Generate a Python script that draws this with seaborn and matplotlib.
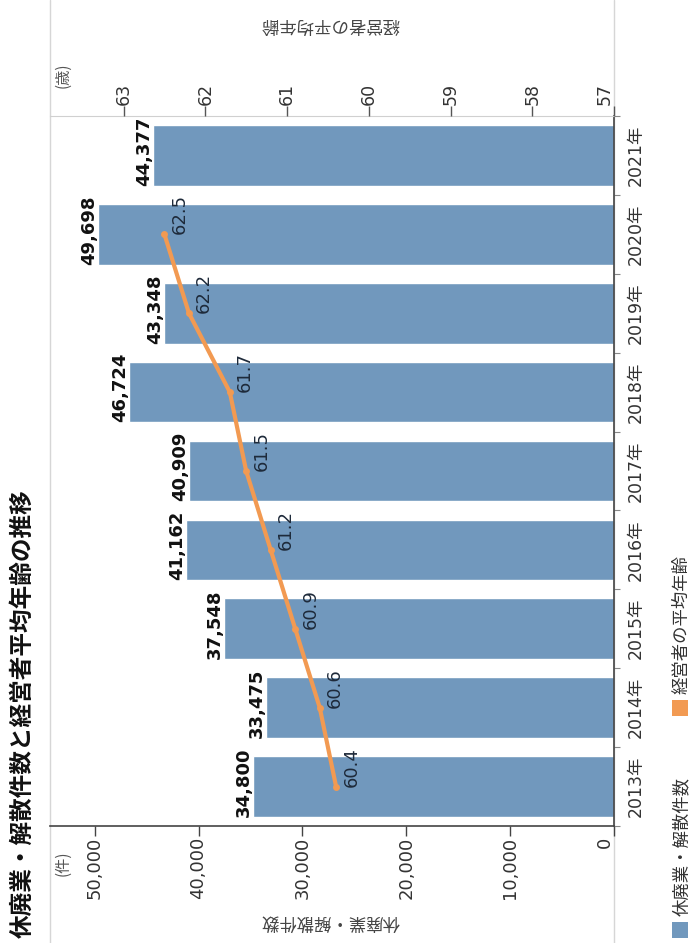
import matplotlib
matplotlib.use("Agg")
import matplotlib.pyplot as plt
import matplotlib.ticker as mticker
from matplotlib.lines import Line2D
from matplotlib.patches import Rectangle
import numpy as np
import pandas as pd
import seaborn as sns

# ---- data -------------------------------------------------------------
years = ["2013年", "2014年", "2015年", "2016年", "2017年",
         "2018年", "2019年", "2020年", "2021年"]
closures = [34800, 33475, 37548, 41162, 40909, 46724, 43348, 49698, 44377]
avg_age = [60.4, 60.6, 60.9, 61.2, 61.5, 61.7, 62.2, 62.5, np.nan]
count_ticks = [0, 10000, 20000, 30000, 40000, 50000]
age_ticks = [57, 58, 59, 60, 61, 62, 63]

title = "休廃業・解散件数と経営者平均年齢の推移"
count_name = "休廃業・解散件数"
age_name = "経営者の平均年齢"

BLUE = "#7198bd"
ORANGE = "#f29a52"
JP = ["Noto Sans CJK JP", "DejaVu Sans"]

sns.set_style("white")
plt.rcParams["font.family"] = ["DejaVu Sans", "Noto Sans CJK JP"]

df = pd.DataFrame({"year": years, "closures": closures, "age": avg_age})
order = years[::-1]                      # newest year on top
df["pos"] = df["year"].map({y: i for i, y in enumerate(order)})

# ---- figure (page is laid out turned on its side) ----------------------
W, H = 691, 943
fig = plt.figure(figsize=(W / 100, H / 100), dpi=100)
fig.patch.set_facecolor("white")


def fx(px):
    return px / W


def fy(py):
    return 1 - py / H


# light frame lines running the full page height
for xp in (50, 614):
    fig.add_artist(Line2D([fx(xp), fx(xp)], [0, 1], transform=fig.transFigure,
                          color="#d6d6d6", lw=1.0, zorder=-1))

ax = fig.add_axes([fx(50), fy(826), fx(614) - fx(50), fy(116) - fy(826)])
ax.patch.set_alpha(0)

sns.barplot(data=df, x="closures", y="year", order=order, orient="h",
            color=BLUE, saturation=1, width=0.77, ax=ax)
ax.set_xlim(54300, 0)
ax.set_xlabel("")
ax.set_ylabel("")

# count axis (bottom)
ax.set_xticks(count_ticks)
ax.xaxis.set_major_formatter(mticker.StrMethodFormatter("{x:,.0f}"))
ax.tick_params(axis="x", bottom=True, direction="out", length=7, width=1,
               color="#444444", labelrotation=90, labelsize=13,
               labelcolor="#333333", pad=1)
for t in ax.get_xticklabels():
    if t.get_text() == "0":
        t.set_ha("right")

# year axis (right)
ax.yaxis.tick_right()
ax.tick_params(axis="y", which="major", length=0, pad=9, labelrotation=90,
               labelsize=12.5, labelcolor="#333333")
for t in ax.get_yticklabels():
    t.set_va("center")
ax.set_yticks(np.arange(-0.5, len(order), 1), minor=True)
ax.tick_params(axis="y", which="minor", right=True, left=False, length=4,
               width=0.8, color="#888888")

for side in ("left",):
    ax.spines[side].set_visible(False)
ax.spines["top"].set_color("#d0d0d0")
ax.spines["right"].set_color("#444444")
ax.spines["bottom"].set_color("#444444")
ax.spines["bottom"].set_linewidth(1.2)
ax.spines["right"].set_linewidth(1.2)

# bar value labels
half = 0.77 / 2
for _, r in df.iterrows():
    ax.annotate(f"{r.closures:,}", xy=(r.closures, r.pos + half),
                xytext=(0, 0), textcoords="offset points",
                rotation=90, rotation_mode="anchor", ha="left", va="bottom",
                fontsize=13, fontweight="bold", color="#111111")

# age line on a twin axis (top)
ax2 = ax.twiny()
line_df = df.dropna(subset=["age"])
sns.lineplot(data=line_df, x="age", y="pos", sort=False, estimator=None,
             color=ORANGE, linewidth=3, marker="o", markersize=5,
             markeredgewidth=0, ax=ax2)
ax2.set_xlim(63.9, 57)
ax.set_ylim(len(order) - 0.5, -0.5)
ax2.set_xlabel("")
ax2.set_ylabel("")
ax2.set_xticks(age_ticks)
ax2.tick_params(axis="x", top=True, direction="out", length=7, width=1,
                color="#555555", labelrotation=90, labelsize=12.5,
                labelcolor="#333333", pad=1)
for t in ax2.get_xticklabels():
    if t.get_text() == "57":
        t.set_ha("right")
for s in ax2.spines.values():
    s.set_visible(False)

for _, r in line_df.iterrows():
    ax2.annotate(f"{r.age:.1f}", xy=(r.age, r.pos), xytext=(4.5, 0),
                 textcoords="offset points", rotation=90,
                 rotation_mode="anchor", ha="left", va="top",
                 fontsize=13, color="#1e2a3a")

# titles, units and axis names
fig.text(fx(23), fy(938), title, rotation=90, ha="center", va="bottom",
         fontsize=17, fontweight="bold", family=JP, color="#111111")
fig.text(fx(63), fy(863), "(件)", rotation=90, ha="center", va="center",
         fontsize=11, family=JP, color="#555555")
fig.text(fx(63), fy(75), "(歳)", rotation=90, ha="center", va="center",
         fontsize=11, family=JP, color="#555555")
fig.text(fx(330), fy(922), count_name, rotation=180, ha="center",
         va="center", fontsize=12.5, family=JP, color="#444444")
fig.text(fx(330), fy(24), age_name, rotation=180, ha="center",
         va="center", fontsize=12.5, family=JP, color="#444444")

# legend
sq = 16
for color, label, y_sq in ((BLUE, count_name, 938), (ORANGE, age_name, 716)):
    fig.add_artist(Rectangle((fx(672), fy(y_sq)), sq / W, sq / H,
                             transform=fig.transFigure, color=color, lw=0))
    fig.text(fx(681.5), fy(y_sq - sq - 6), label, rotation=90, ha="center",
             va="bottom", fontsize=12.5, family=JP, color="#333333")

fig.savefig("out.png", dpi=100)
